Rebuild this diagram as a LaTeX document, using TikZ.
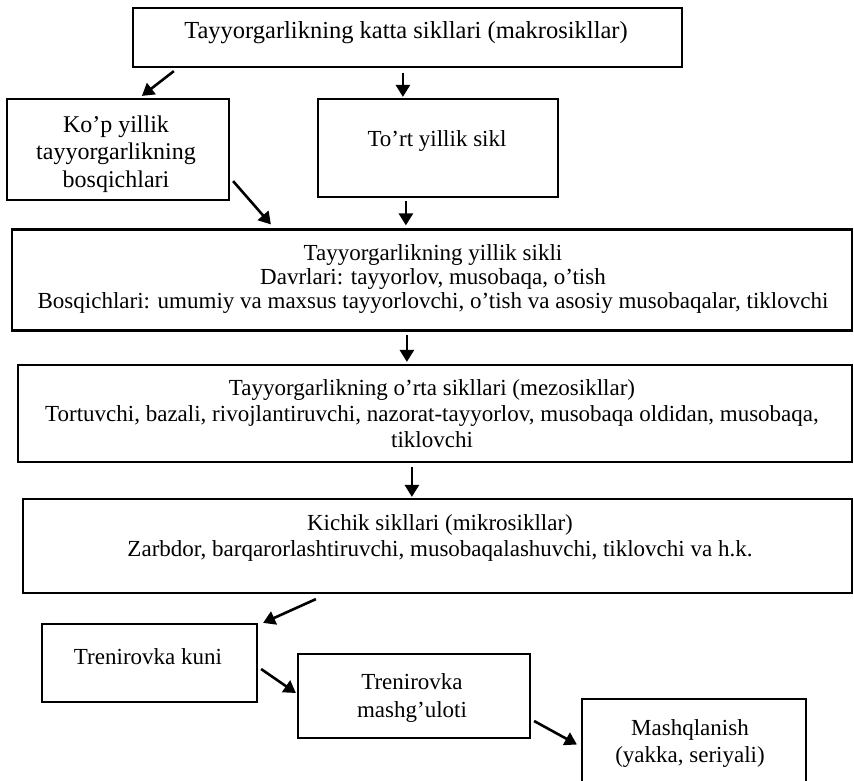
\documentclass[tikz,border=0pt]{standalone}
\usepackage{fontspec}
\setmainfont{Liberation Serif}
\usetikzlibrary{arrows.meta,calc}
\begin{document}
\begin{tikzpicture}[x=1pt,y=-1pt,
  box/.style={draw, line width=2.2pt, inner sep=0pt},
  txt/.style={align=center, inner sep=0pt, font=\fontsize{23}{26}\selectfont},
  arr/.style={line width=2.6pt, -{Triangle[length=12pt,width=14pt]}}]
\useasboundingbox (0,0) rectangle (854,781);
% boxes
\node[box, minimum width=549, minimum height=59] (b1) at (407.5,37.5) {};
\node[box, minimum width=222, minimum height=101] (b2) at (118,149.5) {};
\node[box, minimum width=240, minimum height=98] (b3) at (438,148) {};
\node[box, minimum width=840, minimum height=101] (b4) at (432,280) {};
\node[box, minimum width=834, minimum height=97] (b5) at (435,413.5) {};
\node[box, minimum width=829, minimum height=94] (b6) at (437.5,546) {};
\node[box, minimum width=215, minimum height=78] (b7) at (149.5,663) {};
\node[box, minimum width=232, minimum height=84] (b8) at (414,696) {};
\node[box, minimum width=224, minimum height=91] (b9) at (694,744.5) {};
% texts
\node[txt, font=\fontsize{24.5}{27}\selectfont] (t1) at (406,33) {Tayyorgarlikning katta sikllari (makrosikllar)};
\node[txt, font=\fontsize{24}{27.5}\selectfont] (t2) at (116,154) {Ko'p yillik\\tayyorgarlikning\\bosqichlari};
\node[txt] (t3) at (437,141) {To'rt yillik sikl};
\node[txt, font=\fontsize{23}{24}\selectfont] (t4) at (433,279) {Tayyorgarlikning yillik sikli\\Davrlari: tayyorlov, musobaqa, o'tish\\Bosqichlari: umumiy va maxsus tayyorlovchi, o'tish va asosiy musobaqalar, tiklovchi};
\node[txt] (t5) at (432,414) {Tayyorgarlikning o'rta sikllari (mezosikllar)\\Tortuvchi, bazali, rivojlantiruvchi, nazorat-tayyorlov, musobaqa oldidan, musobaqa,\\tiklovchi};
\node[txt] (t6) at (440,538) {Kichik sikllari (mikrosikllar)\\Zarbdor, barqarorlashtiruvchi, musobaqalashuvchi, tiklovchi va h.k.};
\node[txt] (t7) at (148,657) {Trenirovka kuni};
\node[txt, font=\fontsize{23}{28}\selectfont] (t8) at (412,698) {Trenirovka\\mashg'uloti};
\node[txt, font=\fontsize{23}{27}\selectfont] (t9) at (690,743) {Mashqlanish\\(yakka, seriyali)};
% arrows
\draw[arr] ($(b1.south west)+(42,3)$) -- ($(b2.north west)+(136,-2)$);
\draw[arr] ($(b1.south west)+(271,5)$) -- ($(b3.north west)+(86,-1)$);
\draw[arr] ($(b2.south east)+(3,-20)$) -- ($(b4.north west)+(260,-4)$);
\draw[arr] ($(b3.south west)+(89,3)$) -- ($(b4.north west)+(395,-3)$);
\draw[arr] ($(b4.south west)+(396,3)$) -- ($(b5.north west)+(390,-2)$);
\draw[arr] ($(b5.south west)+(395,4)$) -- ($(b6.north west)+(390,-1)$);
\draw[arr] ($(b6.south west)+(294,5)$) -- ($(b7.north east)+(5,0)$);
\draw[arr] ($(b7.east)+(3,6)$) -- ($(b8.west)+(-1,-3)$);
\draw[arr] ($(b8.east)+(3,25)$) -- ($(b9.west)+(-4,0)$);
\end{tikzpicture}
\end{document}
